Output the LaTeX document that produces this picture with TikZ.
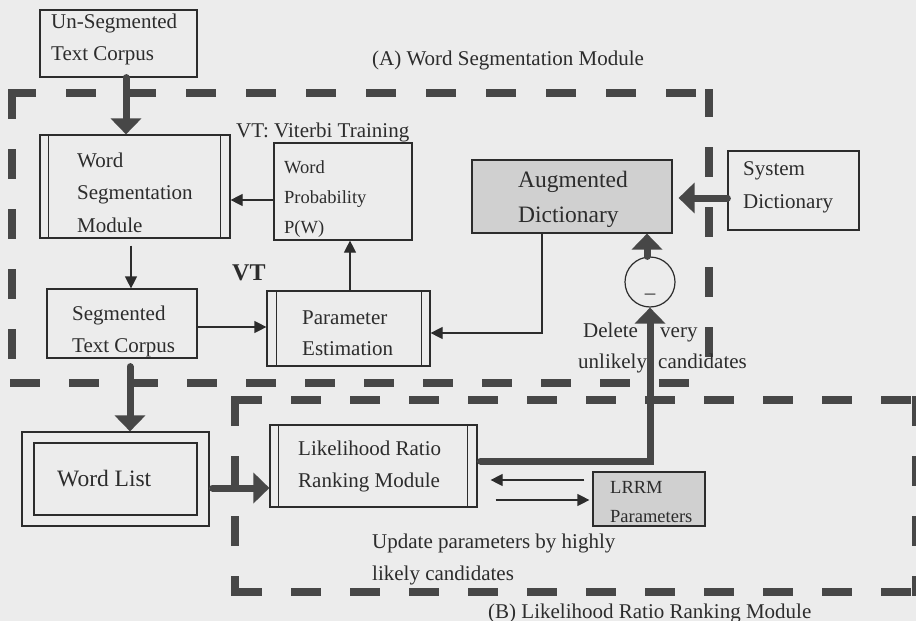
\documentclass[tikz,border=0pt]{standalone}
\usepackage{fontspec}
\setmainfont{Liberation Serif}
\usetikzlibrary{arrows.meta}
\definecolor{bgc}{HTML}{ECECEC}
\definecolor{inkc}{HTML}{2C2C2C}
\definecolor{dashc}{HTML}{474747}
\definecolor{fillc}{HTML}{D0D0D0}
\begin{document}
\begin{tikzpicture}[x=1pt,y=-1pt,
 box/.style={draw=inkc, line width=1.2pt, rectangle, inner sep=0pt},
 gbox/.style={box, fill=fillc},
 innerln/.style={draw=inkc, line width=1.2pt},
 txt/.style={anchor=base west, inner sep=0pt, text=inkc, font=\fontsize{21}{24}\selectfont},
 smalltxt/.style={txt, font=\fontsize{18.5}{22}\selectfont},
 bigtxt/.style={txt, font=\fontsize{23.5}{28}\selectfont},
 thinarr/.style={draw=inkc, line width=1.2pt, -{Triangle[length=12pt,width=12pt]}},
 thickarr/.style={draw=dashc, line width=7pt, line cap=round, -{Triangle[length=16pt,width=30pt]}},
 dashline/.style={draw=dashc, line width=8pt, dash pattern=on 30pt off 30pt},
 dashlineb/.style={draw=dashc, line width=8pt, dash pattern=on 30pt off 29pt},
]
\fill[bgc] (0,0) rectangle (916,621);
\useasboundingbox (0,0) rectangle (916,621);

% (A) dashed frame
\draw[dashline, dash phase=6pt] (12,93) -- (709,93);
\draw[dashline, dash phase=2pt] (709,89) -- (709,382);
\draw[dashlineb] (10,383) -- (709,383);
\draw[dashline] (12,89) -- (12,383);
% (B) dashed frame
\draw[dashlineb, dash phase=3pt] (235,400) -- (916,400);
\draw[dashline] (235,396) -- (235,596);
\draw[dashlineb, dash phase=3pt] (235,592) -- (916,592);
\draw[dashline] (916,396) -- (916,596);

% titles
\node[txt] (ta) at (372,65) {(A) Word Segmentation Module};
\node[txt] (vtt) at (236,137) {VT: Viterbi Training};
\node[txt] (tb) at (488,618) {(B) Likelihood Ratio Ranking Module};

% Un-segmented text corpus
\node[box, minimum width=157pt, minimum height=67pt] (us) at (118.5,43.5) {};
\node[txt] (us1) at (51,28) {Un-Segmented};
\node[txt] (us2) at (51,60) {Text Corpus};

% Word segmentation module
\node[box, minimum width=190pt, minimum height=103pt] (wsm) at (135,186.5) {};
\draw[innerln] ([xshift=9pt]wsm.north west) -- ([xshift=9pt]wsm.south west);
\draw[innerln] ([xshift=-10pt]wsm.north east) -- ([xshift=-10pt]wsm.south east);
\node[txt] (wsm1) at (77,167) {Word};
\node[txt] (wsm2) at (77,199) {Segmentation};
\node[txt] (wsm3) at (77,232) {Module};

% Word probability
\node[box, minimum width=138pt, minimum height=97pt] (wpp) at (343,191.5) {};
\node[smalltxt] (wpp1) at (284,173) {Word};
\node[smalltxt] (wpp2) at (284,203) {Probability};
\node[smalltxt] (wpp3) at (284,233) {P(W)};

\node[txt, font=\fontsize{24}{28}\selectfont\bfseries] (vt) at (232,280) {VT};

% Segmented text corpus
\node[box, minimum width=150pt, minimum height=69pt] (stc) at (122,323.5) {};
\node[txt] (stc1) at (72,320) {Segmented};
\node[txt] (stc2) at (72,352) {Text Corpus};

% Parameter estimation
\node[box, minimum width=163pt, minimum height=75pt] (pe) at (348.5,328.5) {};
\draw[innerln] ([xshift=10pt]pe.north west) -- ([xshift=10pt]pe.south west);
\draw[innerln] ([xshift=-9pt]pe.north east) -- ([xshift=-9pt]pe.south east);
\node[txt] (pe1) at (302,324) {Parameter};
\node[txt] (pe2) at (302,355) {Estimation};

% Augmented dictionary
\node[gbox, minimum width=200pt, minimum height=73pt] (ad) at (572,196.5) {};
\node[bigtxt] (ad1) at (518,187) {Augmented};
\node[bigtxt] (ad2) at (518,222) {Dictionary};

% System dictionary
\node[box, minimum width=131pt, minimum height=79pt] (sd) at (793.5,190.5) {};
\node[txt] (sd1) at (743,175) {System};
\node[txt] (sd2) at (743,208) {Dictionary};

% minus circle
\node[draw=inkc, line width=1.2pt, circle, minimum size=50pt, inner sep=0pt] (circ) at (650,282) {};
\node[txt, anchor=base] (minus) at (650,299) {–};

\node[txt] (del1) at (583,337) {Delete};
\node[txt] (del2) at (660,337) {very};
\node[txt] (del3) at (578,368) {unlikely};
\node[txt] (del4) at (658,368) {candidates};

% Word list
\node[box, minimum width=187pt, minimum height=94pt] (wl) at (115.5,479) {};
\node[box, minimum width=163pt, minimum height=72pt] (wlin) at (115.5,479) {};
\node[bigtxt] (wl1) at (57,486) {Word List};

% LRRM
\node[box, minimum width=207pt, minimum height=82pt] (lrrm) at (373.5,466) {};
\draw[innerln] ([xshift=9pt]lrrm.north west) -- ([xshift=9pt]lrrm.south west);
\draw[innerln] ([xshift=-10pt]lrrm.north east) -- ([xshift=-10pt]lrrm.south east);
\node[txt] (lr1) at (298,455) {Likelihood Ratio};
\node[txt] (lr2) at (298,487) {Ranking Module};

% LRRM parameters
\node[gbox, minimum width=112pt, minimum height=54pt] (lp) at (649,499) {};
\node[smalltxt] (lp1) at (610,493) {LRRM};
\node[smalltxt] (lp2) at (610,522) {Parameters};

\node[txt] (up1) at (372,548) {Update parameters by highly};
\node[txt] (up2) at (372,580) {likely candidates};

% thin connectors
\draw[thinarr] ([yshift=-8.5pt]wpp.west) -- ([yshift=-13.5pt]wsm.east);
\draw[thinarr] ([xshift=-4pt,yshift=-7pt]wsm.south) -- ([xshift=9pt]stc.north);
\draw[thinarr] ([yshift=-3.5pt]stc.east) -- ([yshift=1.5pt]pe.west);
\draw[thinarr] ([xshift=1.5pt]pe.north) -- ([xshift=7pt]wpp.south);
\draw[thinarr] ([xshift=-30pt]ad.south) |- ([yshift=-4.5pt]pe.east);
\draw[thinarr] ([xshift=-8pt,yshift=19pt]lp.west) -- ([xshift=13pt,yshift=-14pt]lrrm.east);
\draw[thinarr] ([xshift=18pt,yshift=-34pt]lrrm.east) -- ([xshift=-3pt,yshift=-1pt]lp.west);

% thick connectors
\draw[thickarr] ([xshift=7.5pt]us.south) -- ([xshift=-9pt]wsm.north);
\draw[thickarr] ([yshift=-7.5pt]sd.west) -- ([xshift=6pt,yshift=-1.5pt]ad.east);
\draw[thickarr] ([xshift=-3pt]circ.north) -- ([xshift=75pt]ad.south);
\draw[thickarr] ([xshift=3pt,yshift=5pt]lrrm.east) -| (circ.south);
\draw[thickarr] ([xshift=8pt,yshift=-8pt]stc.south) -- ([xshift=14.5pt]wl.north);
\draw[thickarr] ([xshift=3pt,yshift=-9pt]wl.east) -- ([yshift=-22pt]lrrm.west);
\end{tikzpicture}
\end{document}
